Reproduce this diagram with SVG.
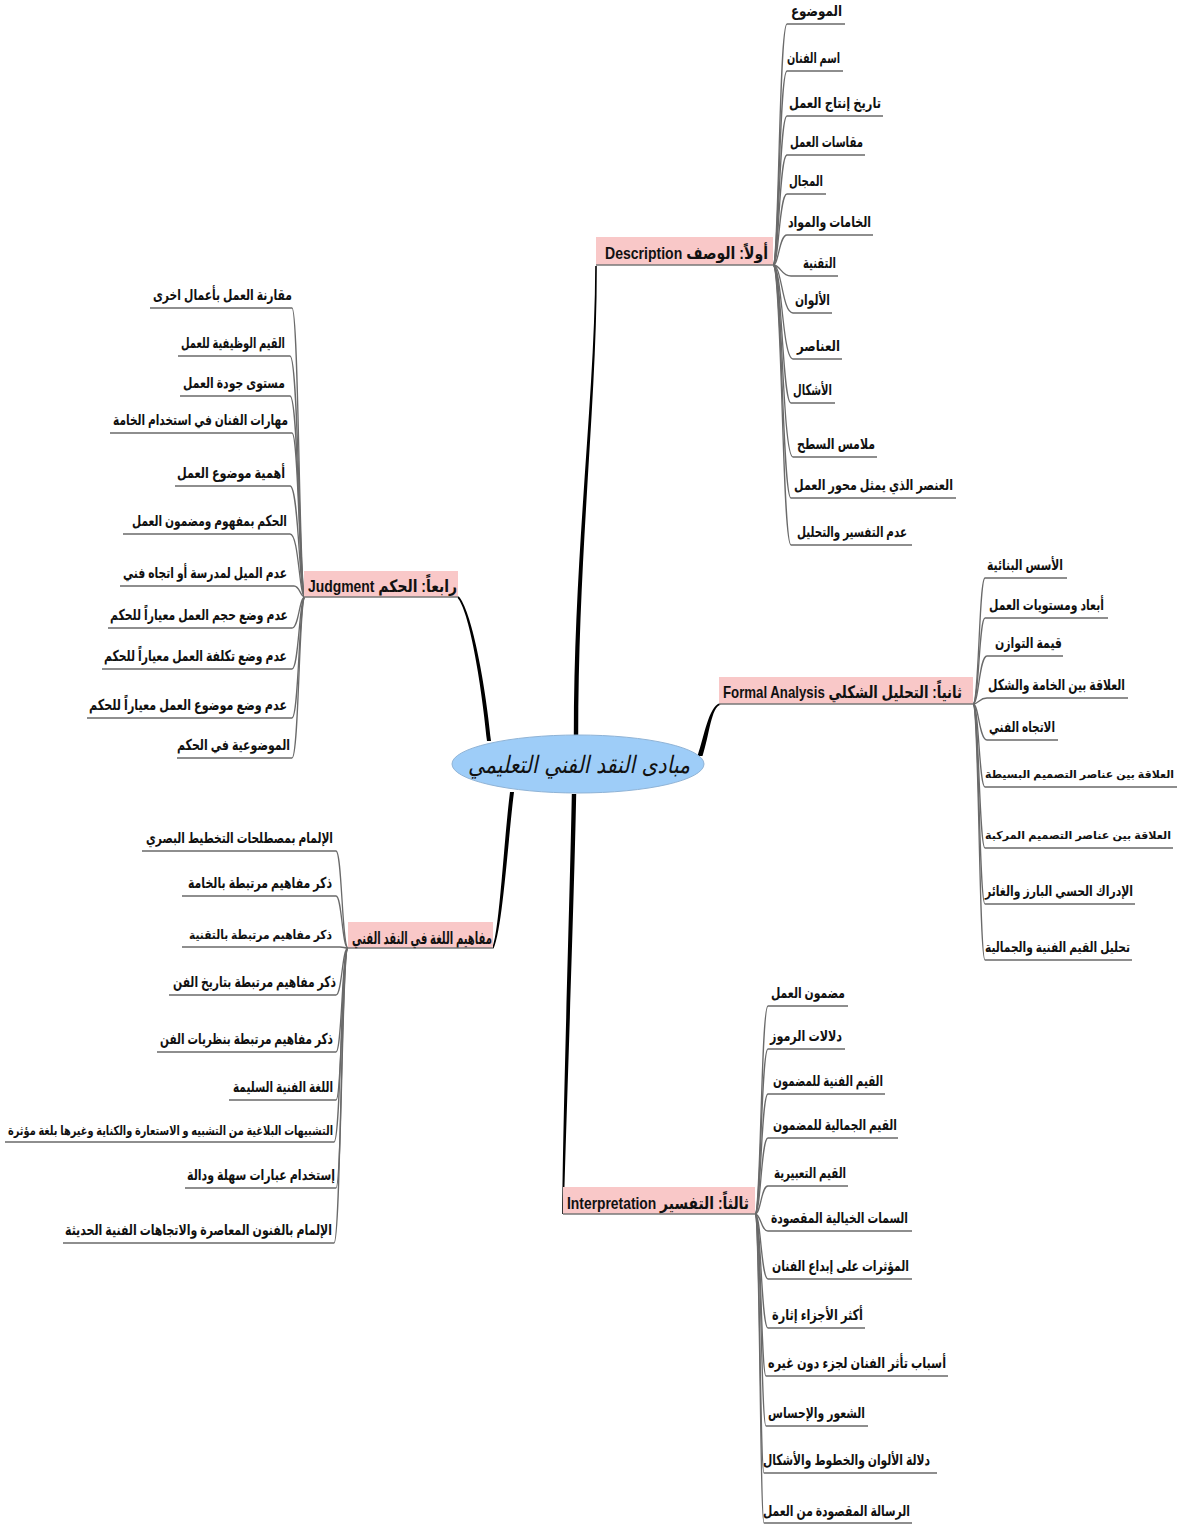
<svg xmlns="http://www.w3.org/2000/svg" width="1177" height="1526" viewBox="0 0 1177 1526">
<style>
.lbl{font-family:"Liberation Sans","DejaVu Sans",sans-serif;font-weight:bold;font-size:15px;fill:#111}
.sm{font-size:13px}
.hd{font-family:"Liberation Sans","DejaVu Sans",sans-serif;font-weight:bold;font-size:17px;fill:#111}
.ctr{font-family:"DejaVu Sans","Liberation Sans",sans-serif;font-style:italic;font-size:24px;fill:#111}
.ln{fill:none;stroke:#6a6a6a;stroke-width:1.3}
.box{fill:#f9c8c8}
.bl{stroke:#777;stroke-width:1.3}
.tr{fill:#000}
</style>
<rect width="1177" height="1526" fill="#fff"/>
<g id="connectors">
<path class="tr" d="M573.8,737 C573.8,550 594.9,400 595.2,266 L596.8,266 C597.1,400 578.2,550 578.2,737 Z"/>
<path class="tr" d="M697.5,756 C704.5,735 708.8,707 719.5,703.2 L720.5,704.8 C711.2,707 709.5,735 702.5,756 Z"/>
<path class="tr" d="M487,741 C481,680 469,611 457.5,597.8 L458.5,596.2 C471,609 485,680 491,741 Z"/>
<path class="tr" d="M571.8,794 C569.8,900 563.2,1100 562.2,1214 L563.8,1214 C566.8,1100 574.2,900 576.2,794 Z"/>
<path class="tr" d="M510,792 C504,840 499.5,930 492.5,947.3 L493.5,948.7 C502.5,930 508,840 514,792 Z"/>
<g id="desc-links">
<path class="ln" d="M773,265 C779,265 779,24 787,24 L845,24"/>
<path class="ln" d="M773,265 C779,265 779,71 787,71 L843,71"/>
<path class="ln" d="M773,265 C779,265 779,116 787,116 L883,116"/>
<path class="ln" d="M773,265 C779,265 779,155 787,155 L865,155"/>
<path class="ln" d="M773,265 C779,265 779,194 787,194 L826,194"/>
<path class="ln" d="M773,265 C779,265 779,235 787,235 L873,235"/>
<path class="ln" d="M773,265 C781,265 781,276 791,276 L838,276"/>
<path class="ln" d="M773,265 C782,265 782,313 793,313 L832,313"/>
<path class="ln" d="M773,265 C782,265 782,359 793,359 L842,359"/>
<path class="ln" d="M773,265 C782,265 782,403 791,403 L835,403"/>
<path class="ln" d="M773,265 C782,265 782,457 793,457 L877,457"/>
<path class="ln" d="M773,265 C782,265 782,498 791,498 L956,498"/>
<path class="ln" d="M773,265 C782,265 782,545 791,545 L912,545"/>
</g>
<g id="formal-links">
<path class="ln" d="M973,704 C979,704 979,578 985,578 L1067,578"/>
<path class="ln" d="M973,704 C979,704 979,618 985,618 L1108,618"/>
<path class="ln" d="M973,704 C979,704 979,656 987,656 L1063,656"/>
<path class="ln" d="M973,704 C979,704 979,698 987,698 L1128,698"/>
<path class="ln" d="M973,704 C979,704 979,740 987,740 L1058,740"/>
<path class="ln" d="M973,704 C979,704 979,787 985,787 L1177,787"/>
<path class="ln" d="M973,704 C979,704 979,848 985,848 L1173,848"/>
<path class="ln" d="M973,704 C979,704 979,904 985,904 L1135,904"/>
<path class="ln" d="M973,704 C979,704 979,960 985,960 L1132,960"/>
</g>
<g id="interp-links">
<path class="ln" d="M755,1214 C761,1214 761,1006 768,1006 L848,1006"/>
<path class="ln" d="M755,1214 C761,1214 761,1049 768,1049 L845,1049"/>
<path class="ln" d="M755,1214 C761,1214 761,1094 768,1094 L885,1094"/>
<path class="ln" d="M755,1214 C761,1214 761,1138 768,1138 L898,1138"/>
<path class="ln" d="M755,1214 C761,1214 761,1186 768,1186 L848,1186"/>
<path class="ln" d="M755,1214 C761,1214 761,1231 768,1231 L912,1231"/>
<path class="ln" d="M755,1214 C761,1214 761,1279 768,1279 L912,1279"/>
<path class="ln" d="M755,1214 C761,1214 761,1328 768,1328 L865,1328"/>
<path class="ln" d="M755,1214 C761,1214 761,1376 766,1376 L948,1376"/>
<path class="ln" d="M755,1214 C761,1214 761,1426 766,1426 L868,1426"/>
<path class="ln" d="M755,1214 C760,1214 760,1473 764,1473 L937,1473"/>
<path class="ln" d="M755,1214 C760,1214 760,1523 764,1523 L912,1523"/>
</g>
<g id="judg-links">
<path class="ln" d="M150,308 L292,308 C299,308 299,597 305,597"/>
<path class="ln" d="M178,356 L290,356 C299,356 299,597 305,597"/>
<path class="ln" d="M180,396 L290,396 C299,396 299,597 305,597"/>
<path class="ln" d="M110,433 L292,433 C299,433 299,597 305,597"/>
<path class="ln" d="M175,486 L290,486 C299,486 299,597 305,597"/>
<path class="ln" d="M123,534 L290,534 C299,534 299,597 305,597"/>
<path class="ln" d="M120,586 L294,586 C300,586 300,597 305,597"/>
<path class="ln" d="M108,628 L292,628 C299,628 299,597 305,597"/>
<path class="ln" d="M102,669 L292,669 C299,669 299,597 305,597"/>
<path class="ln" d="M87,718 L292,718 C299,718 299,597 305,597"/>
<path class="ln" d="M177,758 L292,758 C299,758 299,597 305,597"/>
</g>
<g id="lang-links">
<path class="ln" d="M142,851 L336,851 C342,851 342,948 348,948"/>
<path class="ln" d="M182,896 L336,896 C342,896 342,948 348,948"/>
<path class="ln" d="M182,947 L340,947 C344,947 344,948 348,948"/>
<path class="ln" d="M169,995 L336,995 C342,995 342,948 348,948"/>
<path class="ln" d="M157,1052 L336,1052 C342,1052 342,948 348,948"/>
<path class="ln" d="M229,1100 L336,1100 C342,1100 342,948 348,948"/>
<path class="ln" d="M5,1142 L334,1142 C341,1142 341,948 348,948"/>
<path class="ln" d="M185,1188 L336,1188 C342,1188 342,948 348,948"/>
<path class="ln" d="M63,1243 L334,1243 C341,1243 341,948 348,948"/>
</g>
</g>

<g id="center">
<ellipse cx="578" cy="764" rx="126" ry="29" fill="#9ecdf8" stroke="#8fb3d6" stroke-width="1"/>
<text class="ctr" x="579" y="773" text-anchor="middle" direction="rtl" textLength="222" lengthAdjust="spacingAndGlyphs">مبادى النقد الفني التعليمي</text>
</g>

<g id="branch-description">
<rect class="box" x="596" y="237" width="177" height="28"/>
<line class="bl" x1="596" y1="265" x2="773" y2="265"/>
<text class="hd" x="686.5" y="259" text-anchor="middle" direction="rtl" textLength="163" lengthAdjust="spacingAndGlyphs">أولاً:  الوصف Description</text>
</g>
<g id="branch-formal">
<rect class="box" x="719" y="677" width="254" height="27"/>
<line class="bl" x1="719" y1="704" x2="973" y2="704"/>
<text class="hd" x="842.5" y="698" text-anchor="middle" direction="rtl" textLength="239" lengthAdjust="spacingAndGlyphs">ثانياً: التحليل الشكلي Formal Analysis</text>
</g>
<g id="branch-interpretation">
<rect class="box" x="563" y="1187" width="192" height="27"/>
<line class="bl" x1="563" y1="1214" x2="755" y2="1214"/>
<text class="hd" x="658" y="1209" text-anchor="middle" direction="rtl" textLength="182" lengthAdjust="spacingAndGlyphs">ثالثاً:  التفسير  Interpretation</text>
</g>
<g id="branch-judgment">
<rect class="box" x="304" y="571" width="154" height="26"/>
<line class="bl" x1="304" y1="597" x2="458" y2="597"/>
<text class="hd" x="382.5" y="592" text-anchor="middle" direction="rtl" textLength="149" lengthAdjust="spacingAndGlyphs">رابعاً:  الحكم Judgment</text>
</g>
<g id="branch-language">
<rect class="box" x="348" y="922" width="145" height="26"/>
<line class="bl" x1="348" y1="948" x2="493" y2="948"/>
<text class="hd" x="422" y="944" text-anchor="middle" direction="rtl" textLength="140" lengthAdjust="spacingAndGlyphs">مفاهيم اللغة في النقد الفني</text>
</g>

<g id="desc-items">
<g id="d1"><text class="lbl" x="816.5" y="16" text-anchor="middle" direction="rtl" textLength="51" lengthAdjust="spacingAndGlyphs">الموضوع</text></g>
<g id="d2"><text class="lbl" x="813.5" y="63" text-anchor="middle" direction="rtl" textLength="53" lengthAdjust="spacingAndGlyphs">اسم الفنان</text></g>
<g id="d3"><text class="lbl" x="835" y="108" text-anchor="middle" direction="rtl" textLength="92" lengthAdjust="spacingAndGlyphs">تاريخ إنتاج العمل</text></g>
<g id="d4"><text class="lbl" x="826.5" y="147" text-anchor="middle" direction="rtl" textLength="73" lengthAdjust="spacingAndGlyphs">مقاسات العمل</text></g>
<g id="d5"><text class="lbl" x="806" y="186" text-anchor="middle" direction="rtl" textLength="34" lengthAdjust="spacingAndGlyphs">المجال</text></g>
<g id="d6"><text class="lbl" x="829.5" y="227" text-anchor="middle" direction="rtl" textLength="83" lengthAdjust="spacingAndGlyphs">الخامات والمواد</text></g>
<g id="d7"><text class="lbl" x="819.5" y="268" text-anchor="middle" direction="rtl" textLength="33" lengthAdjust="spacingAndGlyphs">التقنية</text></g>
<g id="d8"><text class="lbl" x="812.5" y="305" text-anchor="middle" direction="rtl" textLength="35" lengthAdjust="spacingAndGlyphs">الألوان</text></g>
<g id="d9"><text class="lbl" x="818.5" y="351" text-anchor="middle" direction="rtl" textLength="43" lengthAdjust="spacingAndGlyphs">العناصر</text></g>
<g id="d10"><text class="lbl" x="812.5" y="395" text-anchor="middle" direction="rtl" textLength="39" lengthAdjust="spacingAndGlyphs">الأشكال</text></g>
<g id="d11"><text class="lbl" x="836" y="449" text-anchor="middle" direction="rtl" textLength="78" lengthAdjust="spacingAndGlyphs">ملامس السطح</text></g>
<g id="d12"><text class="lbl" x="873.5" y="490" text-anchor="middle" direction="rtl" textLength="159" lengthAdjust="spacingAndGlyphs">العنصر الذي يمثل محور العمل</text></g>
<g id="d13"><text class="lbl" x="852" y="537" text-anchor="middle" direction="rtl" textLength="110" lengthAdjust="spacingAndGlyphs">عدم التفسير والتحليل</text></g>
</g>

<g id="formal-items">
<g id="f1"><text class="lbl" x="1025" y="570" text-anchor="middle" direction="rtl" textLength="76" lengthAdjust="spacingAndGlyphs">الأسس البنائية</text></g>
<g id="f2"><text class="lbl" x="1046.5" y="610" text-anchor="middle" direction="rtl" textLength="115" lengthAdjust="spacingAndGlyphs">أبعاد ومستويات العمل</text></g>
<g id="f3"><text class="lbl" x="1028.5" y="648" text-anchor="middle" direction="rtl" textLength="67" lengthAdjust="spacingAndGlyphs">قيمة التوازن</text></g>
<g id="f4"><text class="lbl" x="1056.5" y="690" text-anchor="middle" direction="rtl" textLength="137" lengthAdjust="spacingAndGlyphs">العلاقة بين الخامة والشكل</text></g>
<g id="f5"><text class="lbl" x="1022" y="732" text-anchor="middle" direction="rtl" textLength="66" lengthAdjust="spacingAndGlyphs">الاتجاه الفني</text></g>
<g id="f6"><text class="lbl" style="font-size:11px" x="1079.5" y="778" text-anchor="middle" direction="rtl" textLength="189" lengthAdjust="spacingAndGlyphs">العلاقة بين عناصر التصميم البسيطة</text></g>
<g id="f7"><text class="lbl" style="font-size:11px" x="1078" y="839" text-anchor="middle" direction="rtl" textLength="186" lengthAdjust="spacingAndGlyphs">العلاقة بين عناصر التصميم المركبة</text></g>
<g id="f8"><text class="lbl" style="font-size:14px" x="1059" y="896" text-anchor="middle" direction="rtl" textLength="148" lengthAdjust="spacingAndGlyphs">الإدراك الحسي البارز والغائر</text></g>
<g id="f9"><text class="lbl" style="font-size:14px" x="1057.5" y="952" text-anchor="middle" direction="rtl" textLength="145" lengthAdjust="spacingAndGlyphs">تحليل القيم الفنية والجمالية</text></g>
</g>

<g id="interp-items">
<g id="i1"><text class="lbl" x="808" y="998" text-anchor="middle" direction="rtl" textLength="74" lengthAdjust="spacingAndGlyphs">مضمون العمل</text></g>
<g id="i2"><text class="lbl" x="806" y="1041" text-anchor="middle" direction="rtl" textLength="72" lengthAdjust="spacingAndGlyphs">دلالات الرموز</text></g>
<g id="i3"><text class="lbl" x="828" y="1086" text-anchor="middle" direction="rtl" textLength="110" lengthAdjust="spacingAndGlyphs">القيم الفنية للمضمون</text></g>
<g id="i4"><text class="lbl" x="835" y="1130" text-anchor="middle" direction="rtl" textLength="124" lengthAdjust="spacingAndGlyphs">القيم الجمالية للمضمون</text></g>
<g id="i5"><text class="lbl" x="810" y="1178" text-anchor="middle" direction="rtl" textLength="72" lengthAdjust="spacingAndGlyphs">القيم التعبيرية</text></g>
<g id="i6"><text class="lbl" x="839.5" y="1223" text-anchor="middle" direction="rtl" textLength="137" lengthAdjust="spacingAndGlyphs">السمات الخيالية المقصودة</text></g>
<g id="i7"><text class="lbl" x="840.5" y="1271" text-anchor="middle" direction="rtl" textLength="137" lengthAdjust="spacingAndGlyphs">المؤثرات على إبداع الفنان</text></g>
<g id="i8"><text class="lbl" x="817.5" y="1320" text-anchor="middle" direction="rtl" textLength="91" lengthAdjust="spacingAndGlyphs">أكثر الأجزاء إثارة</text></g>
<g id="i9"><text class="lbl" x="857" y="1368" text-anchor="middle" direction="rtl" textLength="178" lengthAdjust="spacingAndGlyphs">أسباب تأثر الفنان لجزء دون غيره</text></g>
<g id="i10"><text class="lbl" x="816.5" y="1418" text-anchor="middle" direction="rtl" textLength="97" lengthAdjust="spacingAndGlyphs">الشعور والإحساس</text></g>
<g id="i11"><text class="lbl" x="846.5" y="1465" text-anchor="middle" direction="rtl" textLength="167" lengthAdjust="spacingAndGlyphs">دلالة الألوان والخطوط والأشكال</text></g>
<g id="i12"><text class="lbl" x="836.5" y="1516" text-anchor="middle" direction="rtl" textLength="147" lengthAdjust="spacingAndGlyphs">الرسالة المقصودة من العمل</text></g>
</g>

<g id="judg-items">
<g id="j1"><text class="lbl" x="222.5" y="300" text-anchor="middle" direction="rtl" textLength="139" lengthAdjust="spacingAndGlyphs">مقارنة العمل بأعمال اخرى</text></g>
<g id="j2"><text class="lbl" x="233" y="348" text-anchor="middle" direction="rtl" textLength="104" lengthAdjust="spacingAndGlyphs">القيم الوظيفية للعمل</text></g>
<g id="j3"><text class="lbl" x="234" y="388" text-anchor="middle" direction="rtl" textLength="102" lengthAdjust="spacingAndGlyphs">مستوى جودة العمل</text></g>
<g id="j4"><text class="lbl" x="200.5" y="425" text-anchor="middle" direction="rtl" textLength="175" lengthAdjust="spacingAndGlyphs">مهارات الفنان في استخدام الخامة</text></g>
<g id="j5"><text class="lbl" x="231" y="478" text-anchor="middle" direction="rtl" textLength="108" lengthAdjust="spacingAndGlyphs">أهمية موضوع العمل</text></g>
<g id="j6"><text class="lbl" x="209.5" y="526" text-anchor="middle" direction="rtl" textLength="155" lengthAdjust="spacingAndGlyphs">الحكم بمفهوم ومضمون العمل</text></g>
<g id="j7"><text class="lbl" x="205" y="578" text-anchor="middle" direction="rtl" textLength="164" lengthAdjust="spacingAndGlyphs">عدم الميل لمدرسة أو اتجاه فني</text></g>
<g id="j8"><text class="lbl" x="199" y="620" text-anchor="middle" direction="rtl" textLength="178" lengthAdjust="spacingAndGlyphs">عدم وضع حجم العمل معياراً للحكم</text></g>
<g id="j9"><text class="lbl" x="195.5" y="661" text-anchor="middle" direction="rtl" textLength="183" lengthAdjust="spacingAndGlyphs">عدم وضع تكلفة العمل معياراً للحكم</text></g>
<g id="j10"><text class="lbl" x="188" y="710" text-anchor="middle" direction="rtl" textLength="198" lengthAdjust="spacingAndGlyphs">عدم وضع موضوع العمل معياراً للحكم</text></g>
<g id="j11"><text class="lbl" x="233.5" y="750" text-anchor="middle" direction="rtl" textLength="113" lengthAdjust="spacingAndGlyphs">الموضوعية في الحكم</text></g>
</g>

<g id="lang-items">
<g id="l1"><text class="lbl" x="239.5" y="843" text-anchor="middle" direction="rtl" textLength="187" lengthAdjust="spacingAndGlyphs">الإلمام بمصطلحات التخطيط البصري</text></g>
<g id="l2"><text class="lbl" x="260" y="888" text-anchor="middle" direction="rtl" textLength="144" lengthAdjust="spacingAndGlyphs">ذكر مفاهيم مرتبطة بالخامة</text></g>
<g id="l3"><text class="lbl" style="font-size:12.5px" x="260.5" y="939" text-anchor="middle" direction="rtl" textLength="143" lengthAdjust="spacingAndGlyphs">ذكر مفاهيم مرتبطة بالتقنية</text></g>
<g id="l4"><text class="lbl" x="254.5" y="987" text-anchor="middle" direction="rtl" textLength="163" lengthAdjust="spacingAndGlyphs">ذكر مفاهيم مرتبطة بتاريخ الفن</text></g>
<g id="l5"><text class="lbl" x="246.5" y="1044" text-anchor="middle" direction="rtl" textLength="173" lengthAdjust="spacingAndGlyphs">ذكر مفاهيم مرتبطة بنظريات الفن</text></g>
<g id="l6"><text class="lbl" x="283" y="1092" text-anchor="middle" direction="rtl" textLength="100" lengthAdjust="spacingAndGlyphs">اللغة الفنية السليمة</text></g>
<g id="l7"><text class="lbl sm" x="170.5" y="1135" text-anchor="middle" direction="rtl" textLength="325" lengthAdjust="spacingAndGlyphs">التشبيهات البلاغية من التشبيه و الاستعارة والكناية وغيرها  بلغة مؤثرة</text></g>
<g id="l8"><text class="lbl" x="261" y="1180" text-anchor="middle" direction="rtl" textLength="148" lengthAdjust="spacingAndGlyphs">إستخدام عبارات سهلة ودالة</text></g>
<g id="l9"><text class="lbl" x="198.5" y="1235" text-anchor="middle" direction="rtl" textLength="267" lengthAdjust="spacingAndGlyphs">الإلمام بالفنون المعاصرة والاتجاهات الفنية الحديثة</text></g>
</g>
</svg>
